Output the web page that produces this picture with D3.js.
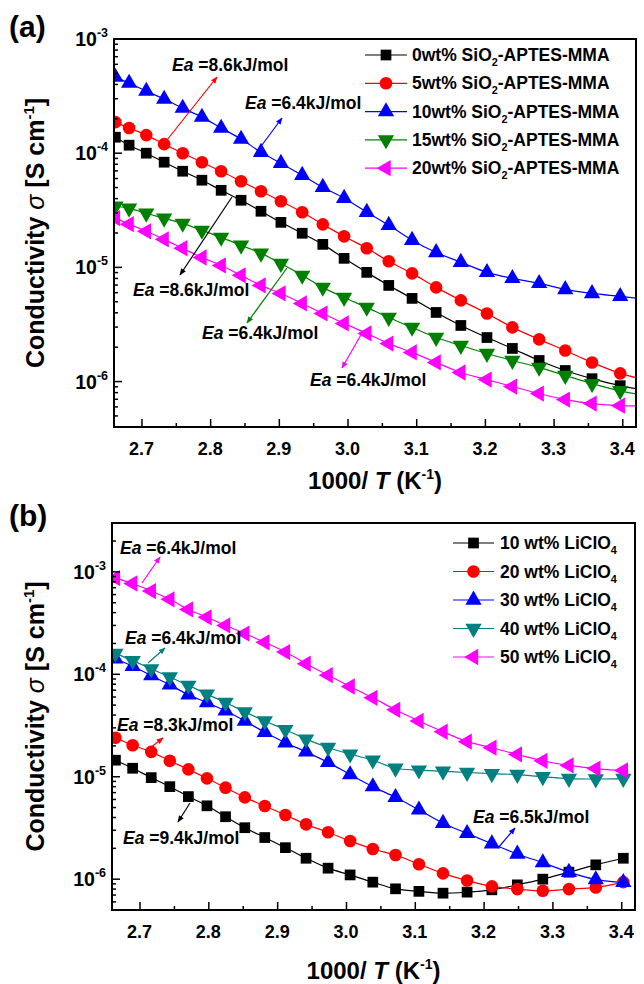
<!DOCTYPE html>
<html><head><meta charset="utf-8">
<script src="https://cdn.jsdelivr.net/npm/d3@7"></script>
<style>
body{margin:0;background:#fff;}
text{font-family:"Liberation Sans",Arial,sans-serif;font-weight:bold;fill:#000;}
</style></head>
<body><svg id="chart" width="644" height="984"></svg>
<script>
// ---------- DATA ----------
// Panel (a): 1000/T values
const xA = [2.662,2.682,2.707,2.733,2.760,2.788,2.816,2.845,2.874,2.903,2.934,2.964,2.995,3.028,3.060,3.094,3.129,3.165,3.203,3.240,3.279,3.317,3.356,3.397,3.438];
const sio2_0  = [1.38e-4,1.175e-4,1.0e-4,8.34e-5,6.95e-5,5.8e-5,4.73e-5,3.87e-5,3.1e-5,2.48e-5,1.99e-5,1.59e-5,1.2e-5,9.04e-6,6.95e-6,5.35e-6,4.03e-6,3.1e-6,2.43e-6,1.95e-6,1.53e-6,1.25e-6,1.06e-6,9.2e-7,8.3e-7];
const sio2_5  = [1.87e-4,1.66e-4,1.44e-4,1.2e-4,1.0e-4,8.34e-5,6.95e-5,5.68e-5,4.64e-5,3.79e-5,3.04e-5,2.38e-5,1.87e-5,1.47e-5,1.13e-5,8.86e-6,6.68e-6,5.14e-6,3.95e-6,2.98e-6,2.34e-6,1.87e-6,1.47e-6,1.18e-6,1.02e-6];
const sio2_10 = [4.64e-4,4.11e-4,3.5e-4,2.98e-4,2.48e-4,2.07e-4,1.66e-4,1.33e-4,1.02e-4,8.17e-5,6.41e-5,5.03e-5,4.03e-5,3.04e-5,2.34e-5,1.73e-5,1.35e-5,1.11e-5,9.04e-6,8.01e-6,7.24e-6,6.41e-6,5.91e-6,5.57e-6,5.24e-6];
const sio2_15 = [3.43e-5,3.29e-5,2.98e-5,2.69e-5,2.43e-5,2.11e-5,1.83e-5,1.56e-5,1.33e-5,1.08e-5,8.51e-6,6.68e-6,5.45e-6,4.46e-6,3.64e-6,2.98e-6,2.43e-6,2.07e-6,1.76e-6,1.53e-6,1.33e-6,1.13e-6,9.6e-7,8.3e-7,7.5e-7];
const sio2_20 = [2.7e-5,2.39e-5,2.07e-5,1.76e-5,1.47e-5,1.22e-5,1.04e-5,8.51e-6,6.95e-6,5.91e-6,4.83e-6,3.95e-6,3.23e-6,2.64e-6,2.15e-6,1.8e-6,1.47e-6,1.2e-6,1.04e-6,9.04e-7,7.85e-7,6.95e-7,6.41e-7,6.15e-7,6.15e-7];
const namesA = ["0wt% SiO","5wt% SiO","10wt% SiO","15wt% SiO","20wt% SiO"];

// Panel (b): 1000/T values
const xB = [2.665,2.690,2.717,2.744,2.771,2.798,2.825,2.853,2.882,2.912,2.942,2.974,3.006,3.039,3.072,3.106,3.141,3.176,3.212,3.249,3.286,3.324,3.363,3.403];
const li10 = [1.45e-5,1.21e-5,9.8e-6,8.0e-6,6.4e-6,5.2e-6,4.07e-6,3.18e-6,2.55e-6,2.03e-6,1.6e-6,1.28e-6,1.1e-6,9.35e-7,8.05e-7,7.6e-7,7.3e-7,7.47e-7,7.87e-7,8.8e-7,1.0e-6,1.17e-6,1.38e-6,1.6e-6];
const li20 = [2.4e-5,2.03e-5,1.75e-5,1.43e-5,1.18e-5,9.64e-6,7.82e-6,6.29e-6,5.18e-6,4.23e-6,3.43e-6,2.87e-6,2.36e-6,1.97e-6,1.72e-6,1.4e-6,1.14e-6,9.7e-7,8.5e-7,8.0e-7,7.7e-7,8.0e-7,8.3e-7,9.35e-7];
const li30 = [1.42e-4,1.2e-4,9.7e-5,7.9e-5,6.3e-5,5.3e-5,4.4e-5,3.5e-5,2.72e-5,2.15e-5,1.75e-5,1.38e-5,1.05e-5,8.0e-6,6.3e-6,4.75e-6,3.52e-6,2.8e-6,2.22e-6,1.76e-6,1.45e-6,1.17e-6,9.9e-7,9.3e-7];
const li40 = [1.6e-4,1.36e-4,1.13e-4,9.4e-5,7.8e-5,6.4e-5,5.3e-5,4.3e-5,3.5e-5,2.88e-5,2.33e-5,1.93e-5,1.66e-5,1.45e-5,1.21e-5,1.16e-5,1.13e-5,1.1e-5,1.07e-5,1.05e-5,1.0e-5,9.6e-6,9.5e-6,9.6e-6];
const li50 = [8.7e-4,7.7e-4,6.5e-4,5.4e-4,4.3e-4,3.6e-4,3.0e-4,2.5e-4,2.05e-4,1.65e-4,1.27e-4,9.8e-5,7.6e-5,5.9e-5,4.5e-5,3.5e-5,2.75e-5,2.2e-5,1.92e-5,1.65e-5,1.43e-5,1.29e-5,1.2e-5,1.15e-5];
const namesB = ["10 wt% LiClO","20 wt% LiClO","30 wt% LiClO","40 wt% LiClO","50 wt% LiClO"];

const xTicks = [2.7,2.8,2.9,3.0,3.1,3.2,3.3,3.4];
const yTicksA = [1e-6,1e-5,1e-4,1e-3];
const yTicksB = [1e-6,1e-5,1e-4,1e-3];

const eaA = ["8.6","6.4","8.6","6.4","6.4"];
const eaB = ["6.4","6.4","8.3","9.4","6.5"];

// ---------- DRAWING ----------
const svg = d3.select("#chart");
svg.append("rect").attr("width",644).attr("height",984).attr("fill","#fff");

const colorsA = ["#000000","#ff0000","#0000ff","#008000","#ff00ff"];
const colorsB = ["#000000","#ff0000","#0000ff","#008080","#ff00ff"];
const shapes = ["square","circle","up","down","left"];

const defs = svg.append("defs");
const allColors = ["#000000","#ff0000","#0000ff","#008000","#ff00ff","#008080"];
allColors.forEach(c=>{
  defs.append("marker").attr("id","arr"+c.slice(1)).attr("viewBox","0 0 10 10")
    .attr("refX",9).attr("refY",5).attr("markerWidth",7).attr("markerHeight",7)
    .attr("markerUnits","userSpaceOnUse").attr("orient","auto")
    .append("path").attr("d","M0,1 L10,5 L0,9 Z").attr("fill",c);
});

function symbolPath(shape){
  if(shape==="square") return d3.symbol(d3.symbolSquare,115)();
  if(shape==="circle") return d3.symbol(d3.symbolCircle,125)();
  return d3.symbol(d3.symbolTriangle,115)();
}
function symbolRot(shape){
  if(shape==="down") return 180;
  if(shape==="left") return -90;
  return 0;
}

function drawPanel(cfg){
  const {left,right,top,bottom,xDomain,yDomain,series,xs,colors,names,subs,yTicks,id} = cfg;
  const x = d3.scaleLinear().domain(xDomain).range([left,right]);
  const y = d3.scaleLog().domain(yDomain).range([bottom,top]);
  const g = svg.append("g");

  defs.append("clipPath").attr("id","clip"+id).append("rect")
    .attr("x",left).attr("y",top).attr("width",right-left).attr("height",bottom-top);

  // lines & markers
  const plot = g.append("g").attr("clip-path","url(#clip"+id+")");
  const line = d3.line().x((d,i)=>x(xs[i])).y(d=>y(d)).curve(d3.curveCatmullRom.alpha(0.5));
  series.forEach((s,k)=>{
    plot.append("path").attr("d",line(s)).attr("fill","none").attr("stroke",colors[k]).attr("stroke-width",1.2);
  });
  series.forEach((s,k)=>{
    plot.selectAll(null).data(s).enter().append("path")
      .attr("d",symbolPath(shapes[k]))
      .attr("transform",(d,i)=>`translate(${x(xs[i])},${y(d)}) rotate(${symbolRot(shapes[k])})`)
      .attr("fill",colors[k]);
  });

  // axes (inward ticks)
  const xAxis = d3.axisBottom(x).tickValues(d3.range(2.70,3.4001,0.05)).tickSizeInner(-4).tickSizeOuter(0).tickFormat("");
  const ga = g.append("g").attr("transform",`translate(0,${bottom})`).call(xAxis);
  ga.selectAll(".tick line").attr("stroke-width",1.5)
    .filter(d=>xTicks.some(t=>Math.abs(t-d)<1e-6)).attr("y2",-8);
  ga.select(".domain").remove();
  // x tick labels
  g.selectAll(null).data(xTicks).enter().append("text")
    .attr("x",d=>x(d)).attr("y",bottom+28).attr("text-anchor","middle")
    .attr("font-size",18).text(d=>d.toFixed(1));

  // y minor/major ticks
  const minor = [];
  const e0 = Math.floor(Math.log10(yDomain[0])), e1 = Math.ceil(Math.log10(yDomain[1]));
  for(let e=e0;e<=e1;e++){ for(let m=1;m<10;m++){ const v=m*Math.pow(10,e); if(v>=yDomain[0]*0.999 && v<=yDomain[1]*1.001) minor.push({v,major:m===1}); } }
  g.selectAll(null).data(minor).enter().append("line")
    .attr("x1",left).attr("x2",d=>left+(d.major?8:4))
    .attr("y1",d=>y(d.v)).attr("y2",d=>y(d.v)).attr("stroke","#000").attr("stroke-width",1.5);
  const yl = g.selectAll(null).data(yTicks).enter().append("text")
    .attr("x",left-6).attr("y",d=>y(d)+7).attr("text-anchor","end").attr("font-size",19.5);
  yl.append("tspan").text("10");
  yl.append("tspan").attr("dy",-9).attr("font-size",12.5).text(d=>String(Math.round(Math.log10(d))));

  // frame
  g.append("rect").attr("x",left).attr("y",top).attr("width",right-left).attr("height",bottom-top)
    .attr("fill","none").attr("stroke","#000").attr("stroke-width",2);

  // legend
  const lg = cfg.legend;
  names.forEach((n,k)=>{
    const ly = lg.y0 + k*lg.dy;
    g.append("line").attr("x1",lg.x1).attr("x2",lg.x2).attr("y1",ly).attr("y2",ly).attr("stroke",colors[k]).attr("stroke-width",1.2);
    g.append("path").attr("d",symbolPath(shapes[k]))
      .attr("transform",`translate(${(lg.x1+lg.x2)/2},${ly}) rotate(${symbolRot(shapes[k])})`).attr("fill",colors[k]);
    const t = g.append("text").attr("x",lg.tx).attr("y",ly+6).attr("font-size",lg.fs);
    t.append("tspan").text(n);
    t.append("tspan").attr("dy",5).attr("font-size",lg.fs*0.62).text(subs[0]);
    if(subs[1]) t.append("tspan").attr("dy",-5).text(subs[1]);
  });

  // annotations
  cfg.ann.forEach(a=>{
    g.append("line").attr("x1",a.from[0]).attr("y1",a.from[1]).attr("x2",a.to[0]).attr("y2",a.to[1])
      .attr("stroke",a.c).attr("stroke-width",1.2).attr("marker-end",`url(#arr${a.c.slice(1)})`);
    const t = g.append("text").attr("x",a.tx).attr("y",a.ty).attr("font-size",17.5);
    t.append("tspan").attr("font-style","italic").text("Ea");
    t.append("tspan").text(" =" + a.ea + "kJ/mol");
  });

  // axis titles
  const xt = g.append("text").attr("x",(left+right)/2).attr("y",cfg.xTitleY).attr("text-anchor","middle").attr("font-size",24);
  xt.append("tspan").text("1000/ ");
  xt.append("tspan").attr("font-style","italic").text("T");
  xt.append("tspan").text(" (K");
  xt.append("tspan").attr("dy",-10).attr("font-size",14).text("-1");
  xt.append("tspan").attr("dy",10).text(")");

  const yt = g.append("text").attr("transform",`translate(${cfg.yTitleX},${(top+bottom)/2}) rotate(-90)`)
    .attr("text-anchor","middle").attr("font-size",25);
  yt.append("tspan").text("Conductivity ");
  yt.append("tspan").attr("font-style","italic").attr("font-weight","normal").text("σ");
  yt.append("tspan").text(" [S cm");
  yt.append("tspan").attr("dy",-10).attr("font-size",15).text("-1");
  yt.append("tspan").attr("dy",10).text("]");

  svg.append("text").attr("x",cfg.label[0]).attr("y",cfg.label[1]).attr("font-size",30).text(cfg.labelText);
}

drawPanel({
  id:"a", left:114, right:636, top:39, bottom:427,
  xDomain:[2.66,3.42], yDomain:[4e-7,1e-3],
  series:[sio2_0,sio2_5,sio2_10,sio2_15,sio2_20], xs:xA, colors:colorsA,
  names:namesA, subs:["2","-APTES-MMA"], yTicks:yTicksA,
  legend:{x1:365,x2:407,tx:412,y0:55,dy:28.3,fs:17.5},
  ann:[
    {c:"#ff0000",from:[167,140],to:[217,77],tx:172,ty:71,ea:eaA[0]},
    {c:"#0000ff",from:[262,145],to:[282,118],tx:245,ty:109,ea:eaA[1]},
    {c:"#000000",from:[232,197],to:[180,275],tx:133,ty:296,ea:eaA[2]},
    {c:"#008000",from:[287,268],to:[247,323],tx:202,ty:339,ea:eaA[3]},
    {c:"#ff00ff",from:[362,333],to:[342,368],tx:310,ty:386,ea:eaA[4]}
  ],
  xTitleY:489, yTitleX:44, label:[9,37], labelText:"(a)"
});

drawPanel({
  id:"b", left:112, right:635, top:523, bottom:910,
  xDomain:[2.66,3.42], yDomain:[5e-7,3e-3],
  series:[li10,li20,li30,li40,li50], xs:xB, colors:colorsB,
  names:namesB, subs:["4",null], yTicks:yTicksB,
  legend:{x1:453,x2:494,tx:500,y0:543,dy:28.5,fs:17.5},
  ann:[
    {c:"#ff00ff",from:[142,583],to:[160,557],tx:120,ty:554,ea:eaB[0]},
    {c:"#008080",from:[148,663],to:[165,648],tx:125,ty:644,ea:eaB[1]},
    {c:"#ff0000",from:[150,748],to:[163,738],tx:117,ty:731,ea:eaB[2]},
    {c:"#000000",from:[190,803],to:[178,822],tx:123,ty:844,ea:eaB[3]},
    {c:"#0000ff",from:[498,848],to:[515,828],tx:473,ty:823,ea:eaB[4]}
  ],
  xTitleY:979, yTitleX:44, label:[9,526], labelText:"(b)"
});
</script></body></html>
